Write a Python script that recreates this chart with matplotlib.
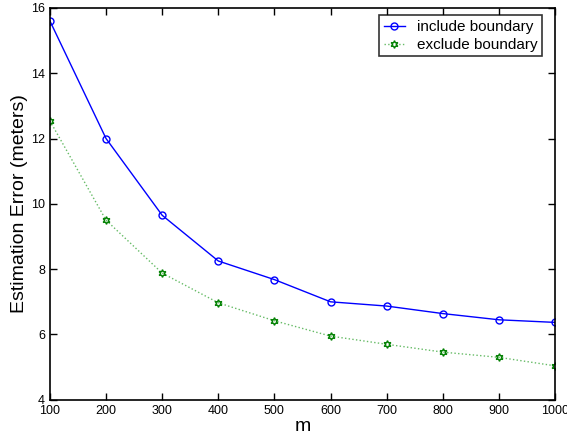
import matplotlib
matplotlib.use('Agg')
import matplotlib.pyplot as plt
import numpy as np

plt.rcParams['font.family'] = ['Liberation Sans', 'DejaVu Sans']

m = [100, 200, 300, 400, 500, 600, 700, 800, 900, 1000]
include_err = [15.6, 12.0, 9.65, 8.25, 7.68, 7.0, 6.87, 6.64, 6.45, 6.37]
exclude_err = [12.54, 9.5, 7.88, 6.97, 6.42, 5.95, 5.7, 5.46, 5.3, 5.04]

fig = plt.figure(figsize=(5.67, 4.36), dpi=100)
ax = fig.add_axes([0.088, 0.083, 0.891, 0.899])

ax.plot(m, include_err, color='blue', lw=1, marker='o', ms=5,
        mfc='none', mec='blue', mew=1, label='include boundary')
ax.plot(m, exclude_err, color='#66bb66', lw=1, ls=':', marker=(6, 1, 0), ms=5.5,
        mfc='none', mec='green', mew=1, label='exclude boundary')

ax.set_xlim(100, 1000)
ax.set_ylim(4, 16)
ax.set_xticks(np.arange(100, 1001, 100))
ax.set_yticks(np.arange(4, 17, 2))
ax.tick_params(direction='in', top=True, right=True, labelsize=9, length=5, width=1)
for s in ax.spines.values():
    s.set_linewidth(1.2)

ax.set_xlabel('m', fontsize=14, labelpad=1)
ax.set_ylabel('Estimation Error (meters)', fontsize=14)
ax.yaxis.set_label_coords(-0.043, 0.5)

leg = ax.legend(loc='upper right', fontsize=11, frameon=True, fancybox=False,
                edgecolor='black', borderaxespad=0.5, handlelength=1.4,
                labelspacing=0.25, borderpad=0.3, bbox_to_anchor=(0.99, 1.0))
leg.get_frame().set_linewidth(1.2)

fig.savefig('out.png', dpi=100)
